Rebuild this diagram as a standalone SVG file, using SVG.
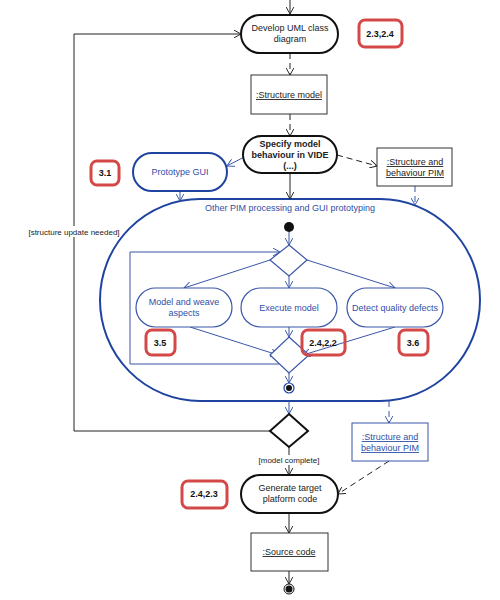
<svg xmlns="http://www.w3.org/2000/svg" width="500" height="600" viewBox="0 0 500 600">
<style>
text{font-family:"Liberation Sans",Arial,sans-serif;font-size:9px;text-anchor:middle;fill:#222}
.b{fill:#2f4fa8}
.bold{font-weight:bold}
.u{text-decoration:underline}
.act{fill:#fff;stroke:#111;stroke-width:2}
.bact{fill:#fff;stroke:#3a56a8;stroke-width:1.2}
.obj{fill:#fff;stroke:#333;stroke-width:1}
.badge rect{fill:#fff;stroke:#d44848;stroke-width:3}
.badge text{font-weight:bold;font-size:9px;fill:#111}
.k{stroke:#222;stroke-width:1;fill:none}
.bl{stroke:#3a56a8;stroke-width:1;fill:none}
.d{stroke-dasharray:6,4}
</style>
<defs>
<marker id="ak" viewBox="0 0 10 10" refX="9" refY="5" markerWidth="8" markerHeight="8" markerUnits="userSpaceOnUse" orient="auto"><path d="M0,0 L9,5 L0,10" fill="none" stroke="#222" stroke-width="1.2"/></marker>
<marker id="ab" viewBox="0 0 10 10" refX="9" refY="5" markerWidth="8" markerHeight="8" markerUnits="userSpaceOnUse" orient="auto"><path d="M0,0 L9,5 L0,10" fill="none" stroke="#3a56a8" stroke-width="1.2"/></marker>
</defs>
<rect width="500" height="600" fill="#fff"/>

<g id="region">
<rect x="100" y="199" width="380" height="202" rx="100" ry="101" fill="#fff" stroke="#1f44a0" stroke-width="2"/>
<text class="b" x="290" y="211">Other PIM processing and GUI prototyping</text>
</g>

<g id="connectors">
<line class="k" x1="290" y1="0" x2="290" y2="14" marker-end="url(#ak)"/>
<polyline class="k" points="270,431 74,431 74,34 241,34" marker-end="url(#ak)"/>
<line class="k d" x1="290" y1="53" x2="290" y2="75" marker-end="url(#ak)"/>
<line class="k d" x1="290" y1="114" x2="290" y2="136" marker-end="url(#ak)"/>
<line class="k d" x1="337" y1="155" x2="377" y2="166" marker-end="url(#ak)"/>
<line class="bl" x1="248" y1="155" x2="227" y2="166" marker-end="url(#ab)"/>
<line class="k" x1="290" y1="173" x2="290" y2="199" marker-end="url(#ak)"/>
<line class="bl" x1="180" y1="191" x2="180" y2="201" marker-end="url(#ab)"/>
<line class="bl d" x1="415" y1="186" x2="415" y2="205" marker-end="url(#ab)"/>
<line class="bl" x1="289" y1="232" x2="289" y2="245" marker-end="url(#ab)"/>
<line class="bl" x1="270" y1="260" x2="184" y2="288" marker-end="url(#ab)"/>
<line class="bl" x1="289" y1="276" x2="289" y2="288" marker-end="url(#ab)"/>
<line class="bl" x1="307" y1="260" x2="395" y2="288" marker-end="url(#ab)"/>
<polyline class="bl" points="279,364 130,364 130,252 280,252" marker-end="url(#ab)"/>
<line class="bl" x1="190" y1="327" x2="278" y2="355" marker-end="url(#ab)"/>
<line class="bl" x1="289" y1="327" x2="289" y2="337" marker-end="url(#ab)"/>
<line class="bl" x1="395" y1="327" x2="303" y2="355" marker-end="url(#ab)"/>
<line class="bl" x1="289" y1="373" x2="289" y2="383" marker-end="url(#ab)"/>
<line class="bl" x1="289" y1="401" x2="289" y2="414" marker-end="url(#ab)"/>
<line class="bl d" x1="389" y1="401" x2="389" y2="423" marker-end="url(#ab)"/>
<line class="k" x1="289" y1="447" x2="289" y2="475" marker-end="url(#ak)"/>
<line class="k d" x1="389" y1="461" x2="338" y2="494" marker-end="url(#ak)"/>
<line class="k" x1="289" y1="513" x2="289" y2="533" marker-end="url(#ak)"/>
<line class="k" x1="289" y1="571" x2="289" y2="584" marker-end="url(#ak)"/>
<rect x="29" y="226" width="91" height="11" fill="#fff"/>
<text x="74" y="235" style="font-size:8px">[structure update needed]</text>
<rect x="255" y="455" width="68" height="10" fill="#fff"/>
<text x="289" y="463" style="font-size:8px">[model complete]</text>
</g>

<g id="develop">
<rect class="act" x="241" y="15" width="97" height="38" rx="19"/>
<text x="290" y="31">Develop UML class</text>
<text x="290" y="42">diagram</text>
</g>
<g id="badge-2-3-2-4" class="badge"><rect x="359" y="20" width="43" height="27" rx="6"/><text x="380" y="37">2.3,2.4</text></g>

<g id="structure-model">
<rect class="obj" x="251" y="75" width="76" height="39"/>
<text class="u" x="289" y="98">:Structure model</text>
</g>

<g id="specify">
<rect class="act" x="243" y="136" width="94" height="37" rx="18.5"/>
<text class="bold" x="290" y="147">Specify model</text>
<text class="bold" x="290" y="158">behaviour in VIDE</text>
<text class="bold" x="290" y="169">(...)</text>
</g>

<g id="pim-top">
<rect class="obj" x="377" y="148" width="75" height="38"/>
<text class="u" x="415" y="165">:Structure and</text>
<text class="u" x="415" y="176">behaviour PIM</text>
</g>

<g id="prototype-gui">
<rect x="133" y="153" width="94" height="38" rx="19" fill="#fff" stroke="#1f44a0" stroke-width="2"/>
<text class="b" x="180" y="175">Prototype GUI</text>
</g>
<g id="badge-3-1" class="badge"><rect x="91" y="161" width="28" height="24" rx="6"/><text x="105" y="176">3.1</text></g>

<g id="initial"><circle cx="289" cy="227" r="5" fill="#111"/></g>
<g id="decision-top"><polygon points="289,245 307,260 289,276 270,260" fill="#fff" stroke="#3a56a8" stroke-width="1.2"/></g>

<g id="model-weave">
<rect class="bact" x="136" y="288" width="96" height="39" rx="19.5"/>
<text class="b" x="184" y="305">Model and weave</text>
<text class="b" x="184" y="316">aspects</text>
</g>
<g id="execute">
<rect class="bact" x="241" y="288" width="96" height="39" rx="19.5"/>
<text class="b" x="289" y="311">Execute model</text>
</g>
<g id="detect">
<rect class="bact" x="347" y="288" width="96" height="39" rx="19.5"/>
<text class="b" x="395" y="311">Detect quality defects</text>
</g>

<g id="merge"><polygon points="289,337 309,355 289,373 270,355" fill="#fff" stroke="#3a56a8" stroke-width="1.2"/></g>
<g id="badge-3-5" class="badge"><rect x="146" y="330" width="29" height="25" rx="6"/><text x="160" y="346">3.5</text></g>
<g id="badge-2-4-2-2" class="badge"><rect x="302" y="330" width="43" height="25" rx="6" style="fill:none"/><text x="323" y="346">2.4,2.2</text></g>
<g id="badge-3-6" class="badge"><rect x="399" y="330" width="29" height="25" rx="6"/><text x="413" y="346">3.6</text></g>

<g id="region-final"><circle cx="289" cy="388" r="5" fill="#fff" stroke="#1f44a0" stroke-width="1.2"/><circle cx="289" cy="388" r="3" fill="#111"/></g>

<g id="decision-bottom"><polygon points="289,414 308,431 289,447 270,431" fill="#fff" stroke="#111" stroke-width="2"/></g>

<g id="pim-bottom">
<rect x="352" y="423" width="76" height="38" fill="#fff" stroke="#3a56a8" stroke-width="1"/>
<text class="b u" x="390" y="440">:Structure and</text>
<text class="b u" x="390" y="451">behaviour PIM</text>
</g>

<g id="generate">
<rect class="act" x="241" y="475" width="97" height="38" rx="19"/>
<text x="290" y="491">Generate target</text>
<text x="290" y="502">platform code</text>
</g>
<g id="badge-2-4-2-3" class="badge"><rect x="182" y="481" width="45" height="27" rx="6"/><text x="204" y="497">2.4,2.3</text></g>

<g id="source-code">
<rect class="obj" x="251" y="533" width="77" height="38"/>
<text class="u" x="289" y="555">:Source code</text>
</g>

<g id="final"><circle cx="289" cy="589" r="5" fill="#fff" stroke="#111" stroke-width="1"/><circle cx="289" cy="589" r="3.5" fill="#111"/></g>
</svg>
